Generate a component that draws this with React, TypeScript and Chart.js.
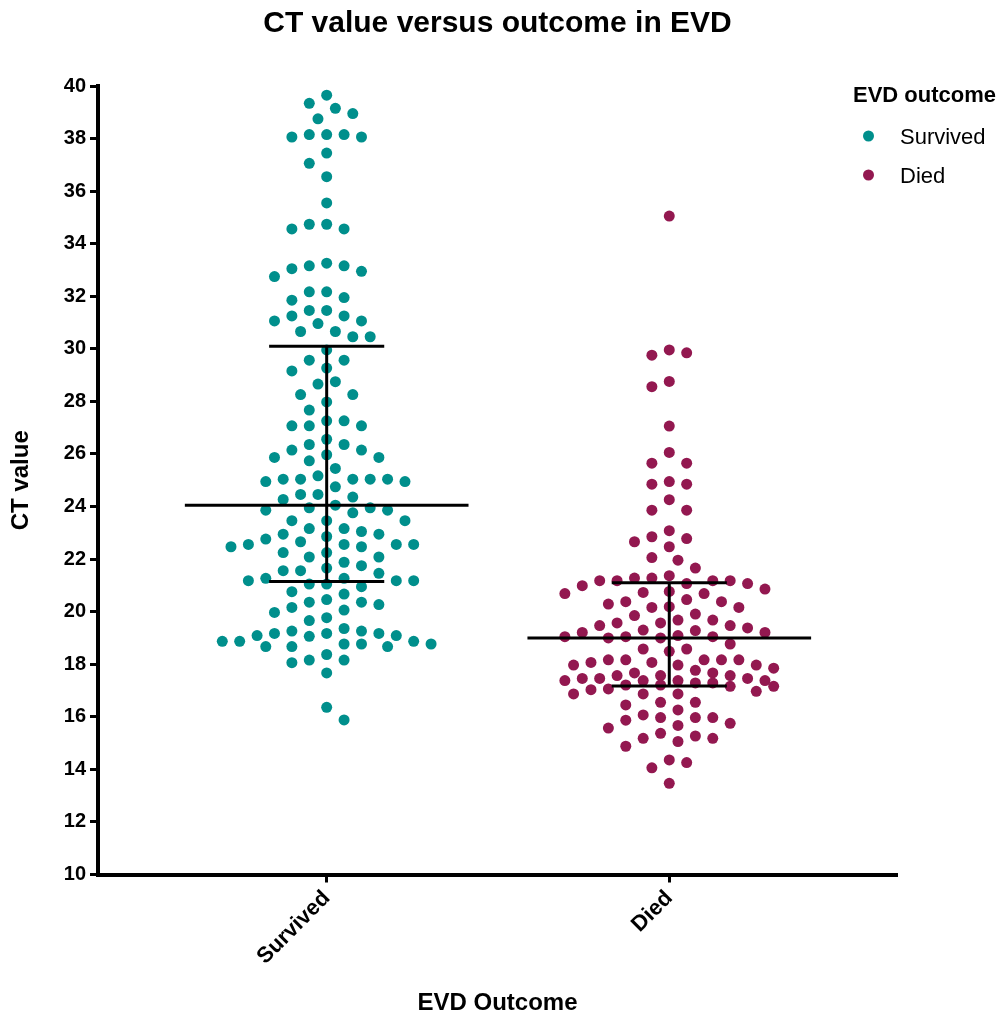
import React, { useEffect, useRef } from "react";
import { Chart, registerables } from "chart.js";

Chart.register(...registerables);

// ---------------- data ----------------
const categories = ["Survived", "Died"];

const survivedCt = [
  39.65, 39.34, 39.15, 38.95, 38.75, 38.15, 38.15, 38.15, 38.06, 38.06, 37.45, 37.06, 36.55, 35.55, 34.74, 34.74, 34.56, 34.56,
  33.26, 33.16, 33.16, 33.05, 32.95, 32.75, 32.17, 32.17, 31.95, 31.85, 31.46, 31.46, 31.25, 31.25, 31.06, 31.06, 30.96,
  30.66, 30.66, 30.46, 30.46, 29.96, 29.57, 29.57, 29.27, 29.16, 28.75, 28.66, 28.26, 28.26, 27.98,
  27.67, 27.26, 27.26, 27.07, 27.07, 27.07, 26.56, 26.36, 26.36, 26.15, 26.15, 25.97, 25.87, 25.87, 25.74, 25.45, 25.17,
  25.04, 25.04, 25.04, 25.04, 25.04, 24.95, 24.95, 24.75, 24.46, 24.46, 24.36, 24.27, 24.05, 23.95, 23.95, 23.86, 23.86,
  23.76, 23.46, 23.46, 23.46, 23.16, 23.16, 23.05, 22.95, 22.95, 22.86, 22.76, 22.66, 22.56, 22.56, 22.56, 22.56, 22.47,
  22.47, 22.25, 22.25, 22.08, 22.08, 21.88,
  21.75, 21.66, 21.56, 21.56, 21.46, 21.27, 21.27, 21.18, 21.18, 21.18, 21.05, 21.05, 20.95, 20.76, 20.67, 20.46, 20.36,
  20.36, 20.27, 20.16, 20.06, 19.97, 19.77, 19.66, 19.36, 19.26, 19.26, 19.17, 19.17, 19.17, 19.09, 19.09, 19.06, 18.87,
  18.87, 18.87, 18.77, 18.77, 18.77, 18.67, 18.67, 18.67, 18.37, 18.16, 18.16, 18.06, 17.67, 16.36, 15.88,
];

const diedCt = [
  35.05, 29.96, 29.85, 29.76, 28.76, 28.56,
  27.06, 26.06, 25.65, 25.65, 24.95, 24.85, 24.85, 24.26, 23.86, 23.86, 23.08,
  22.85, 22.78, 22.66, 22.47, 22.06, 21.96, 21.66, 21.37, 21.28, 21.28, 21.18, 21.18, 21.18, 21.18, 21.07, 21.07, 20.99,
  20.86, 20.77, 20.73, 20.69, 20.69, 20.46, 20.38, 20.38, 20.29, 20.19, 20.16, 20.16, 19.91, 19.85, 19.68, 19.68, 19.57,
  19.57, 19.47, 19.47, 19.38, 19.3, 19.28, 19.21, 19.21, 19.09, 19.05, 19.05, 19.05, 19.0, 19.0, 18.77, 18.58, 18.58, 18.49,
  18.17, 18.17, 18.17, 18.17, 18.17, 18.07, 18.07, 17.97, 17.97, 17.97, 17.85, 17.77, 17.67, 17.67, 17.57, 17.57, 17.57,
  17.46, 17.46, 17.46, 17.38, 17.38, 17.38, 17.38, 17.29, 17.29, 17.21, 17.21, 17.16, 17.16, 17.06, 17.03, 16.97, 16.87,
  16.87, 16.87, 16.55, 16.55, 16.45, 16.26, 16.07, 15.97, 15.97, 15.97, 15.87, 15.75, 15.67, 15.57, 15.37, 15.27, 15.18,
  15.18, 15.06, 14.88, 14.36, 14.26, 14.06, 13.47,
];

const medians = [24.05, 19.0];
const upperQuartiles = [30.1, 21.1];
const lowerQuartiles = [21.15, 17.17];

const yMin = 10;
const yMax = 40;
const yStep = 2;

const chartTitle = "CT value versus outcome in EVD";
const xTitle = "EVD Outcome";
const yTitle = "CT value";
const legendTitle = "EVD outcome";

const colors = ["#008F8C", "#931850"];

// ---------------- layout helpers ----------------
const FONT = '"Liberation Sans", Arial, Helvetica, sans-serif';
const PX_PER_X = 342.6; // pixels per category unit
const PX_PER_Y = 26.3; // pixels per CT unit
const GRID = 8.7; // horizontal swarm grid (px)
const COL_W = 17.4; // horizontal collision radius (px)
const BAND_H = 15; // vertical collision radius (px)
const MAX_K = 12; // widest grid column on either side

function swarm(values: number[], center: number) {
  const order = values.map((_, i) => i).sort((a, b) => values[b] - values[a]);
  const placed: { k: number; y: number }[] = [];
  const out: { x: number; y: number }[] = new Array(values.length);
  let flip = 1;
  const penalty = (k: number, y: number) => {
    let s = 0;
    for (const p of placed) {
      const dx = (Math.abs(p.k - k) * GRID) / COL_W;
      const dy = Math.abs(p.y - y) / BAND_H;
      const d2 = dx * dx + dy * dy;
      if (d2 < 0.999) s += 1 - d2;
    }
    return s;
  };
  for (const i of order) {
    const y = values[i] * PX_PER_Y;
    let best = 0;
    let bestPen = Infinity;
    for (let m = 0; m <= MAX_K; m++) {
      const cands = m === 0 ? [0] : [flip * m, -flip * m];
      for (const k of cands) {
        const pen = penalty(k, y);
        if (pen < bestPen - 1e-9) {
          bestPen = pen;
          best = k;
        }
      }
      if (bestPen === 0) break;
    }
    flip = -flip;
    placed.push({ k: best, y });
    out[i] = { x: center + (best * GRID) / PX_PER_X, y: values[i] };
  }
  return out;
}

const MEDIAN_HALF = 0.414;
const QUART_HALF = 0.168;

function summaryLines(ci: number) {
  const seg = (x1: number, y1: number, x2: number, y2: number) => ({
    type: "line" as const,
    data: [
      { x: x1, y: y1 },
      { x: x2, y: y2 },
    ],
    borderColor: "#000",
    borderWidth: 3,
    pointRadius: 0,
    showLine: true,
    fill: false,
    order: 0,
  });
  return [
    seg(ci - MEDIAN_HALF, medians[ci], ci + MEDIAN_HALF, medians[ci]),
    seg(ci - QUART_HALF, upperQuartiles[ci], ci + QUART_HALF, upperQuartiles[ci]),
    seg(ci - QUART_HALF, lowerQuartiles[ci], ci + QUART_HALF, lowerQuartiles[ci]),
    seg(ci, lowerQuartiles[ci], ci, upperQuartiles[ci]),
  ];
}

const overlayText = {
  id: "overlayText",
  afterDraw(chart: any) {
    const ctx = chart.ctx as CanvasRenderingContext2D;
    const area = chart.chartArea;
    ctx.save();
    ctx.fillStyle = "#000";
    ctx.textBaseline = "alphabetic";
    ctx.textAlign = "center";
    ctx.font = `bold 30px ${FONT}`;
    ctx.fillText(chartTitle, (area.left + area.right) / 2, 32);

    ctx.textAlign = "left";
    ctx.font = `bold 22px ${FONT}`;
    ctx.fillText(legendTitle, 853, 102);
    ctx.font = `22px ${FONT}`;
    const rows = [143.5, 182.5];
    categories.forEach((c, i) => {
      ctx.fillText(c, 900, rows[i]);
      ctx.beginPath();
      ctx.fillStyle = colors[i];
      ctx.arc(868.5, rows[i] - 7.5, 5.5, 0, Math.PI * 2);
      ctx.fill();
      ctx.fillStyle = "#000";
    });
    ctx.restore();
  },
};

export default function App() {
  const ref = useRef<HTMLCanvasElement | null>(null);

  useEffect(() => {
    document.body.style.margin = "0";
    if (!ref.current) return;
    Chart.defaults.font.family = FONT;
    Chart.defaults.color = "#000";

    const datasets: any[] = [
      ...summaryLines(0),
      ...summaryLines(1),
      {
        type: "scatter",
        label: categories[0],
        data: swarm(survivedCt, 0),
        backgroundColor: colors[0],
        borderColor: colors[0],
        borderWidth: 0,
        pointRadius: 5.5,
        order: 1,
      },
      {
        type: "scatter",
        label: categories[1],
        data: swarm(diedCt, 1),
        backgroundColor: colors[1],
        borderColor: colors[1],
        borderWidth: 0,
        pointRadius: 5.5,
        order: 1,
      },
    ];

    const chart = new Chart(ref.current, {
      type: "scatter",
      data: { datasets },
      options: {
        animation: false,
        responsive: false,
        maintainAspectRatio: false,
        layout: { padding: { left: 0, right: 109, top: 86, bottom: 0 } },
        plugins: {
          legend: { display: false },
          title: { display: false },
          tooltip: { enabled: false },
        },
        scales: {
          x: {
            type: "linear",
            min: -0.6675,
            max: 1.6647,
            afterFit: (s: any) => {
              s.height = 146.5;
            },
            afterBuildTicks: (s: any) => {
              s.ticks = categories.map((_, i) => ({ value: i }));
            },
            ticks: {
              autoSkip: false,
              minRotation: 45,
              maxRotation: 45,
              padding: 3,
              font: { size: 22, weight: "bold" },
              callback: (v: any) => categories[Math.round(Number(v))] ?? "",
            },
            grid: {
              display: true,
              drawOnChartArea: false,
              drawTicks: true,
              tickLength: 8,
              tickWidth: 3,
              tickColor: "#000",
            },
            border: { display: true, color: "#000", width: 4 },
            title: {
              display: true,
              text: xTitle,
              font: { size: 24, weight: "bold" },
              padding: { top: 0, bottom: 3 },
            },
          },
          y: {
            type: "linear",
            min: yMin,
            max: yMax,
            afterFit: (s: any) => {
              s.width = 98;
            },
            ticks: {
              stepSize: yStep,
              padding: 4,
              font: { size: 20, weight: "bold" },
            },
            grid: {
              display: true,
              drawOnChartArea: false,
              drawTicks: true,
              tickLength: 8,
              tickWidth: 3,
              tickColor: "#000",
            },
            border: { display: true, color: "#000", width: 4 },
            title: {
              display: true,
              text: yTitle,
              font: { size: 24, weight: "bold" },
              padding: { top: 7, bottom: 0 },
            },
          },
        },
      },
      plugins: [overlayText],
    });
    return () => chart.destroy();
  }, []);

  return (
    <div style={{ width: 1006, height: 1021 }}>
      <canvas ref={ref} width={1006} height={1021} style={{ display: "block" }} />
    </div>
  );
}
